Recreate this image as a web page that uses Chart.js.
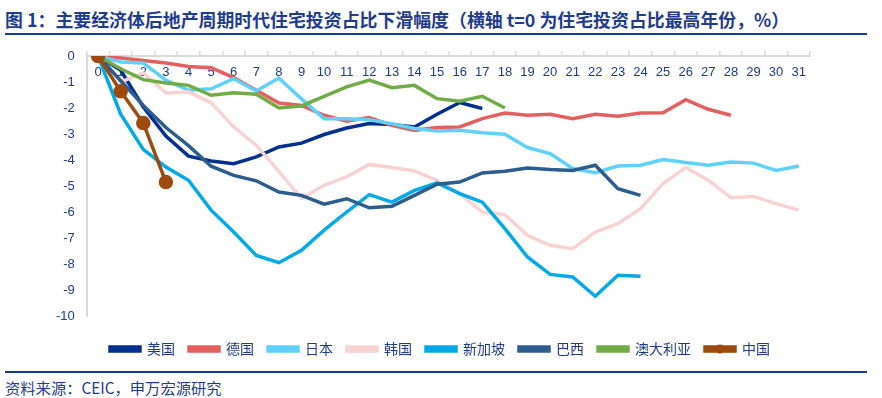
<!DOCTYPE html>
<html>
<head>
<meta charset="utf-8">
<script src="https://cdn.jsdelivr.net/npm/chart.js@4/dist/chart.umd.min.js"></script>
<style>
  html, body { margin:0; padding:0; background:#fff; }
  body { width:882px; height:398px; position:relative; overflow:hidden; font-family:"Noto Sans CJK SC","Liberation Sans",sans-serif; }
  #title { position:absolute; left:5px; top:6px; font-size:17.9px; font-weight:bold; color:#1f3c8f; white-space:nowrap; line-height:26px; }
  .rule { position:absolute; left:5px; width:862px; height:2px; background:#1a3a94; }
  #wrap { position:absolute; left:0; top:36px; width:882px; height:330px; }
  #src { position:absolute; left:5px; top:377px; font-size:15.3px; color:#1f3c8f; white-space:nowrap; line-height:20px; }
</style>
</head>
<body>
<div id="title">图 1：主要经济体后地产周期时代住宅投资占比下滑幅度（横轴 t=0 为住宅投资占比最高年份，%）</div>
<div class="rule" style="top:33px"></div>
<div id="wrap"><canvas id="c"></canvas></div>
<div class="rule" style="top:371px"></div>
<div id="src">资料来源：CEIC，申万宏源研究</div>
<script>
const xLabels = ['0','1','2','3','4','5','6','7','8','9','10','11','12','13','14','15','16','17','18','19','20','21','22','23','24','25','26','27','28','29','30','31'];
const seriesNames = ['美国','德国','日本','韩国','新加坡','巴西','澳大利亚','中国'];
const usValues = [0,-0.55,-1.96,-3.08,-3.85,-4.04,-4.14,-3.88,-3.5,-3.35,-3.02,-2.77,-2.6,-2.63,-2.73,-2.24,-1.79,-2.02];
const deValues = [0,-0.08,-0.17,-0.27,-0.4,-0.45,-0.83,-1.32,-1.81,-1.9,-2.28,-2.51,-2.37,-2.67,-2.86,-2.75,-2.73,-2.41,-2.19,-2.28,-2.24,-2.41,-2.24,-2.32,-2.19,-2.18,-1.68,-2.05,-2.28];
const jpValues = [0,-0.23,-0.27,-0.93,-1.32,-1.26,-0.87,-1.35,-0.85,-1.65,-2.41,-2.41,-2.45,-2.6,-2.79,-2.88,-2.86,-2.95,-3.01,-3.52,-3.75,-4.33,-4.49,-4.23,-4.2,-3.98,-4.1,-4.2,-4.08,-4.12,-4.4,-4.23];
const krValues = [0,-1.0,-0.65,-1.42,-1.38,-1.8,-2.73,-3.43,-4.45,-5.48,-4.97,-4.65,-4.17,-4.29,-4.42,-4.78,-5.29,-6.0,-6.1,-6.9,-7.28,-7.41,-6.77,-6.45,-5.87,-4.91,-4.29,-4.78,-5.45,-5.4,-5.68,-5.93];
const sgValues = [0,-2.24,-3.59,-4.27,-4.78,-5.93,-6.77,-7.67,-7.95,-7.47,-6.7,-6.0,-5.33,-5.62,-5.17,-4.88,-5.29,-5.62,-6.64,-7.73,-8.4,-8.5,-9.24,-8.43,-8.47];
const brValues = [0,-0.95,-1.9,-2.75,-3.45,-4.24,-4.59,-4.8,-5.23,-5.36,-5.7,-5.49,-5.84,-5.78,-5.36,-4.93,-4.85,-4.5,-4.43,-4.31,-4.37,-4.4,-4.2,-5.1,-5.36];
const auValues = [0,-0.49,-0.91,-1.04,-1.13,-1.51,-1.41,-1.47,-2.0,-1.92,-1.55,-1.19,-0.93,-1.22,-1.13,-1.64,-1.74,-1.55,-2.0];
const cnValues = [0,-1.36,-2.58,-4.85];
const yTicks = [0,-1,-2,-3,-4,-5,-6,-7,-8,-9,-10];

const seriesValues = [usValues, deValues, jpValues, krValues, sgValues, brValues, auValues, cnValues];
const colors = ['#00308f','#e3605e','#5fd1fb','#f9d3d3','#00aae9','#2b5d8f','#70ad47','#9c4a0e'];

const textBlue = '#1f3c8f';
const axisGray = '#d9d9d9';

const datasets = seriesNames.map((name, i) => ({
  label: name,
  data: seriesValues[i],
  borderColor: colors[i],
  backgroundColor: colors[i],
  borderWidth: 3.5,
  pointRadius: i === 7 ? 5.5 : 0,
  pointHoverRadius: i === 7 ? 5.5 : 0,
  pointBackgroundColor: colors[i],
  pointBorderColor: colors[i],
  tension: 0,
  fill: false,
  order: seriesNames.length - i
}));

const legendShift = {
  id: 'legendShift',
  afterLayout(chart) {
    const lg = chart.legend;
    if (!lg) return;
    lg.left += 13;
    lg.right += 13;
  }
};

const legendMarker = {
  id: 'legendMarker',
  afterDraw(chart) {
    const lg = chart.legend;
    if (!lg || !lg.legendHitBoxes || !lg.legendItems) return;
    const idx = lg.legendItems.findIndex(it => it.datasetIndex === 7);
    const hb = lg.legendHitBoxes[idx];
    if (!hb) return;
    const bw = lg.options.labels.boxWidth;
    const ctx = chart.ctx;
    ctx.save();
    ctx.fillStyle = colors[7];
    ctx.beginPath();
    ctx.arc(hb.left + bw / 2, hb.top + hb.height / 2, 4.5, 0, Math.PI * 2);
    ctx.fill();
    ctx.restore();
  }
};

new Chart(document.getElementById('c'), {
  type: 'line',
  data: { labels: xLabels, datasets },
  plugins: [legendShift, legendMarker],
  options: {
    responsive: true,
    maintainAspectRatio: false,
    animation: false,
    events: [],
    layout: { padding: { left: 44, right: 72, top: 15, bottom: 0 } },
    scales: {
      x: {
        type: 'category',
        labels: xLabels,
        offset: true,
        position: { y: 0 },
        grid: { display: false, drawTicks: false },
        border: { display: false },
        ticks: { color: textBlue, padding: 9, font: { family: 'Liberation Sans', size: 13 }, maxRotation: 0, autoSkip: false }
      },
      xTop: {
        type: 'category',
        labels: xLabels,
        offset: true,
        position: 'top',
        grid: { offset: true, drawOnChartArea: false, drawTicks: true, tickLength: 5, color: axisGray, lineWidth: 1.5 },
        border: { display: true, color: axisGray, width: 2 },
        ticks: { display: false }
      },
      xBottomSpace: {
        type: 'category',
        labels: xLabels,
        position: 'bottom',
        grid: { drawOnChartArea: false, drawTicks: true, tickLength: 12, color: 'rgba(0,0,0,0)' },
        border: { display: false },
        ticks: { display: false }
      },
      y: {
        min: -10,
        max: 0,
        afterBuildTicks(scale) { scale.ticks = yTicks.map(v => ({ value: v })); },
        grid: { drawOnChartArea: false, drawTicks: false },
        border: { display: true, color: axisGray, width: 2 },
        ticks: { color: textBlue, padding: 12, font: { family: 'Liberation Sans', size: 13 } }
      }
    },
    plugins: {
      tooltip: { enabled: false },
      title: { display: false },
      legend: {
        display: true,
        position: 'bottom',
        labels: {
          boxWidth: 30,
          boxHeight: 4,
          padding: 14,
          color: textBlue,
          font: { family: 'Noto Sans CJK SC', size: 14 },
          sort: (a, b) => a.datasetIndex - b.datasetIndex
        }
      }
    }
  }
});
</script>
</body>
</html>
